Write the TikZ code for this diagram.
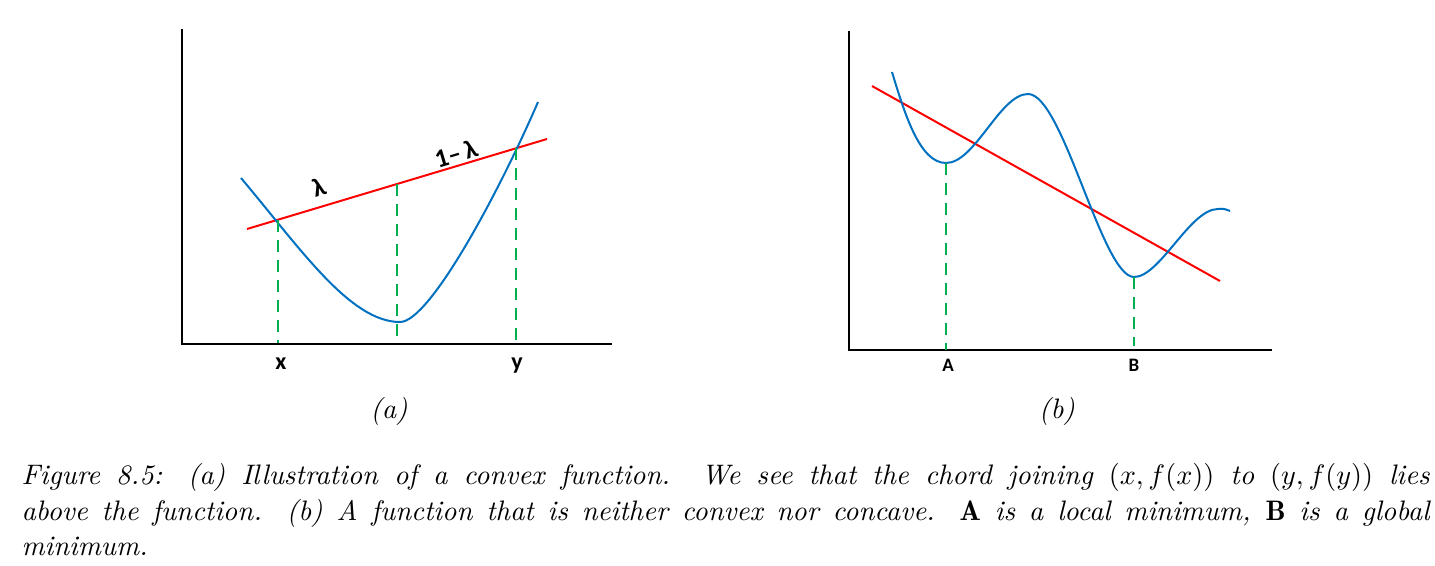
\documentclass[tikz,border=0pt]{standalone}
\usepackage{fontspec}
\newfontfamily\lab{Carlito}
\definecolor{fblue}{HTML}{0070C0}
\definecolor{fred}{HTML}{FF0000}
\definecolor{fgreen}{HTML}{00B050}
\tikzset{
  axis/.style={draw=black, line width=1.6pt},
  chord/.style={draw=fred, line width=2pt},
  func/.style={draw=fblue, line width=2pt},
  guide/.style={draw=fgreen, line width=2pt, dash pattern=on 12pt off 8pt},
  ptlab/.style={font=\lab\bfseries\fontsize{24}{24}\selectfont, inner sep=0pt},
  lamlab/.style={font=\lab\bfseries\fontsize{26}{26}\selectfont, inner sep=0pt, rotate=16.7},
  ptlabs/.style={font=\lab\bfseries\fontsize{19}{19}\selectfont, inner sep=0pt},
  sublab/.style={font=\fontsize{10}{12}\selectfont\itshape, inner sep=0pt, scale=2.82},
  caplab/.style={font=\fontsize{10}{12}\selectfont\itshape, inner sep=0pt, anchor=base west, scale=2.82},
}
\begin{document}
\begin{tikzpicture}[x=1pt, y=-1pt]
\useasboundingbox (0,0) rectangle (1435,565);
% ---------- (a) ----------
\coordinate (aO) at (182,344);
\coordinate (aT) at (182,29);
\coordinate (aR) at (612,344);
\draw[axis] (aT) -- (aO) -- (aR);
\coordinate (c1) at (247,229);
\coordinate (c2) at (547,139);
\draw[chord] (c1) -- (c2);
\coordinate (fa0) at (241,178);
\coordinate (fa1) at (400,322);
\coordinate (fa2) at (538,102);
\draw[func] (fa0) .. controls (300,248) and (350,322) .. (fa1)
                  .. controls (430,322) and (500,190) .. (fa2);
\coordinate (gx) at (278,220);
\coordinate (gxb) at (278,343);
\coordinate (gm) at (397,184);
\coordinate (gmb) at (397,343);
\coordinate (gy) at (516,148);
\coordinate (gyb) at (516,343);
\draw[guide] (gx) -- (gxb);
\draw[guide] (gm) -- (gmb);
\draw[guide] (gy) -- (gyb);
\node[ptlab] (lx) at (281,364) {x};
\node[ptlab] (ly) at (517,366) {y};
\node[lamlab] (lam) at (319,187) {λ};
\node[lamlab] (lam2) at (456,154) {1–\,λ};
\node[sublab] (suba) at (389,411) {(a)};
% ---------- (b) ----------
\coordinate (bO) at (849,350);
\coordinate (bT) at (849,31);
\coordinate (bR) at (1272,350);
\draw[axis] (bT) -- (bO) -- (bR);
\coordinate (d1) at (872,86);
\coordinate (d2) at (1220,281);
\draw[chord] (d1) -- (d2);
\coordinate (fb0) at (892,72);
\coordinate (fbA) at (946,163);
\coordinate (fbM) at (1028,94);
\coordinate (fbB) at (1134,277);
\coordinate (fbN) at (1218,209);
\coordinate (fbE) at (1230,211);
\draw[func] (fb0) .. controls (905,115) and (920,163) .. (fbA)
                  .. controls (975,163) and (1000,94) .. (fbM)
                  .. controls (1063,94) and (1102,277) .. (fbB)
                  .. controls (1160,277) and (1190,209) .. (fbN)
                  .. controls (1224,208) and (1227,210) .. (fbE);
\coordinate (gA) at (946,163);
\coordinate (gAb) at (946,350);
\coordinate (gB) at (1134,277);
\coordinate (gBb) at (1134,346);
\draw[guide] (gA) -- (gAb);
\draw[guide] (gB) -- (gBb);
\node[ptlabs] (lA) at (948,365) {A};
\node[ptlabs] (lB) at (1134,365) {B};
\node[sublab] (subb) at (1057,411) {(b)};
% ---------- caption ----------
\node[caplab] (cap1) at (21,484) {\makebox[499.3pt][s]{Figure 8.5: (a) Illustration of a convex function. We see that the chord joining $(x,f(x))$ to $(y,f(y))$ lies}};
\node[caplab] (cap2) at (21,520) {\makebox[499.3pt][s]{above the function. (b) A function that is neither convex nor concave. $\mathbf{A}$ is a local minimum, $\mathbf{B}$ is a global}};
\node[caplab] (cap3) at (21,555) {minimum.};
\end{tikzpicture}
\end{document}
